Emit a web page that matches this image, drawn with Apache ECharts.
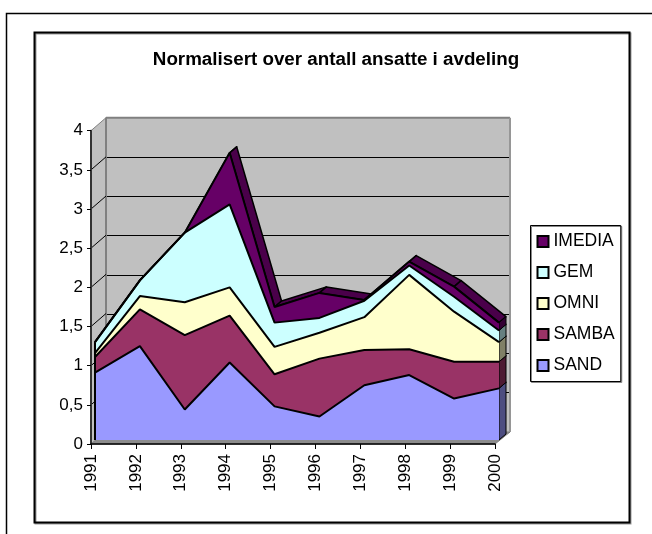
<!DOCTYPE html>
<html><head><meta charset="utf-8">
<style>html,body{margin:0;padding:0;background:#fff}#c{width:652px;height:534px}</style>
<script src="https://cdn.jsdelivr.net/npm/echarts@6/dist/echarts.min.js"></script>
</head><body><div id="c"></div>
<script>
const years=['1991','1992','1993','1994','1995','1996','1997','1998','1999','2000'];
const SAND=[.86,1.2,.39,.99,.43,.30,.70,.83,.53,.66];
const SAMBA=[.2,.47,.95,.6,.41,.74,.45,.33,.47,.34];
const OMNI=[.05,.17,.42,.36,.35,.33,.42,.95,.64,.25];
const GEM=[.14,.2,.89,1.06,.31,.19,.21,.12,.19,.15];
const IMEDIA=[0,0,0,.66,.2,.32,.01,.05,.13,.1];
const yTicks=[0,.5,1,1.5,2,2.5,3,3.5,4];
const layers=[['SAND',SAND,'#9999ff','#4d4d80'],['SAMBA',SAMBA,'#993366','#4d1a33'],['OMNI',OMNI,'#ffffcc','#808066'],['GEM',GEM,'#ccffff','#668080'],['IMEDIA',IMEDIA,'#660066','#4a004a']];
const capColors=['#4d4d80','#4d1a33','#808066','#668080','#330033'];
const DX=7,DY=-6;
let tops=[];let acc=years.map(()=>0);
layers.forEach(l=>{acc=acc.map((v,i)=>+(v+l[1][i]).toFixed(3));tops.push(acc.slice());});
const topMost=tops[tops.length-1];
const chart=echarts.init(document.getElementById('c'),null,{renderer:'canvas'});
const grids=[
 {left:106,width:404,top:117.5,height:314.5,show:true,backgroundColor:'#c0c0c0',borderWidth:0},
 {left:91,width:404,top:130.7,height:313.3},
 {left:95,width:404,top:127,height:313}
];
const hiddenX=g=>({type:'category',gridIndex:g,data:years,boundaryGap:false,show:false});
const series=[];
// left wall and floor, drawn from the axis scale
series.push({type:'custom',xAxisIndex:1,yAxisIndex:1,silent:true,z:1,data:[0],coordinateSystem:'cartesian2d',
 renderItem(p,api){
  const a=api.coord([0,0]),b=api.coord([0,4]),c=api.coord([9,0]);
  return {type:'group',children:[
   {type:'polygon',shape:{points:[a,b,[b[0]+15,b[1]-13],[a[0]+15,a[1]-12]]},style:{fill:'#c0c0c0',stroke:'#808080',lineWidth:1}},
   {type:'polygon',shape:{points:[a,c,[c[0]+15,c[1]-12],[a[0]+15,a[1]-12]]},style:{fill:'#8c8c8c',stroke:'#808080',lineWidth:1}},
   {type:'line',shape:{x1:a[0]+15,y1:b[1]-13,x2:a[0]+15,y2:a[1]-12},style:{stroke:'#808080',lineWidth:2}},
   {type:'line',shape:{x1:b[0]+15,y1:b[1]-13,x2:c[0]+15,y2:b[1]-13},style:{stroke:'#808080',lineWidth:2}},
   {type:'line',shape:{x1:c[0]+15,y1:b[1]-13,x2:c[0]+15,y2:c[1]-12},style:{stroke:'#969696',lineWidth:2}}
  ]};
 }});
// depth lines from every y tick to the back wall
series.push({type:'custom',xAxisIndex:1,yAxisIndex:1,silent:true,z:1,data:yTicks.slice(1,-1).map(v=>[0,v]),
 renderItem(p,api){
  const a=api.coord([api.value(0),api.value(1)]);
  return {type:'line',shape:{x1:a[0],y1:a[1],x2:a[0]+15,y2:a[1]-13},style:{stroke:'#000',lineWidth:1}};
 }});
// depth ribbons along the top edges
layers.forEach((l,k)=>{
 const d=years.slice(0,-1).map((y,i)=>[i,tops[k][i],tops[k][i+1]]);
 series.push({type:'custom',xAxisIndex:2,yAxisIndex:2,silent:true,z:3,data:d,
  renderItem(p,api){
   const i=api.value(0),a=api.coord([i,api.value(1)]),b=api.coord([i+1,api.value(2)]);
   return {type:'polygon',shape:{points:[a,b,[b[0]+DX,b[1]+DY],[a[0]+DX,a[1]+DY]]},
    style:{fill:l[3],stroke:'#000',lineWidth:1.5,lineJoin:'round'}};
  }});
});
// right end cap
layers.forEach((l,k)=>{
 const lo=k?tops[k-1][9]:0,hi=tops[k][9];
 series.push({type:'custom',xAxisIndex:2,yAxisIndex:2,silent:true,z:4,data:[[9,lo,hi]],
  renderItem(p,api){
   const a=api.coord([9,api.value(1)]),b=api.coord([9,api.value(2)]);
   return {type:'polygon',shape:{points:[a,b,[b[0]+DX,b[1]+DY],[a[0]+DX,a[1]+DY]]},
    style:{fill:capColors[k],stroke:'#000',lineWidth:1}};
  }});
});
// front stacked areas
layers.forEach(l=>{
 series.push({name:l[0],type:'line',stack:'t',xAxisIndex:2,yAxisIndex:2,data:l[1],symbol:'none',z:5,
  lineStyle:{color:'#000',width:2},areaStyle:{color:l[2],opacity:1},itemStyle:{color:l[2],borderColor:'#000',borderWidth:1.5},animation:false,silent:true});
});
// left edge of the front plane
series.push({type:'custom',xAxisIndex:2,yAxisIndex:2,silent:true,z:6,data:[[0,topMost[0]]],
 renderItem(p,api){const a=api.coord([0,0]),b=api.coord([0,api.value(1)]);
  return {type:'line',shape:{x1:a[0],y1:a[1],x2:b[0],y2:b[1]},style:{stroke:'#000',lineWidth:2}};}});
chart.setOption({
 animation:false,backgroundColor:'#fff',
 title:{text:'Normalisert over antall ansatte i avdeling',left:331,top:45,textAlign:'center',
  textStyle:{fontFamily:'Liberation Sans',fontSize:18.8,fontWeight:'bold',color:'#000'}},
 legend:{data:['IMEDIA','GEM','OMNI','SAMBA','SAND'],orient:'vertical',left:530.5,top:225.5,itemWidth:11,itemHeight:11,itemGap:13,
  padding:[7,6,7,6],borderColor:'#000',borderWidth:1,backgroundColor:'#fff',selectedMode:false,icon:'rect',
  shadowColor:'#888',shadowOffsetX:1,shadowOffsetY:1,
  textStyle:{fontFamily:'Liberation Sans',fontSize:17.5,color:'#000',padding:[0,0,0,0]}},
 grid:grids,
 xAxis:[hiddenX(0),
  {type:'category',gridIndex:1,data:years,boundaryGap:false,
   axisLine:{lineStyle:{color:'#000',width:1.5}},axisTick:{show:true,length:5,inside:false,alignWithLabel:true,lineStyle:{color:'#000'}},
   axisLabel:{rotate:90,interval:0,margin:10,fontFamily:'Liberation Sans',fontSize:17,color:'#000'},z:8},
  hiddenX(2)],
 yAxis:[
  {type:'value',gridIndex:0,min:0,max:4,interval:.5,axisLabel:{show:false},axisLine:{show:false},axisTick:{show:false},
   splitLine:{show:true,lineStyle:{color:'#000',width:1}}},
  {type:'value',gridIndex:1,min:0,max:4,interval:.5,
   axisLine:{show:true,lineStyle:{color:'#333',width:2}},axisTick:{show:true,length:4,lineStyle:{color:'#000'}},splitLine:{show:false},
   axisLabel:{margin:8,fontFamily:'Liberation Sans',fontSize:17,color:'#000',formatter:v=>String(v).replace('.',',')},z:8},
  {type:'value',gridIndex:2,min:0,max:4,interval:.5,show:false,splitLine:{show:false}}
 ],
 series,
 graphic:[
  {type:'rect',z:-10,silent:true,shape:{x:6.5,y:13.5,width:900,height:900},style:{fill:'#fff',stroke:'#000',lineWidth:1.5}},
  {type:'rect',z:-9,silent:true,shape:{x:34.5,y:32.5,width:595,height:490},style:{fill:'#fff',stroke:'#000',lineWidth:2,shadowColor:'#999',shadowOffsetX:1,shadowOffsetY:1,shadowBlur:0}}
 ]
});
</script></body></html>
